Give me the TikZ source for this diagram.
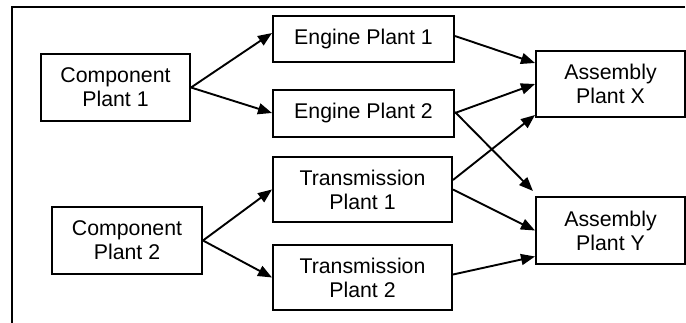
\documentclass[tikz,border=0pt]{standalone}
\usepackage{fontspec}
\setmainfont{Liberation Sans}
\usetikzlibrary{arrows.meta}

\begin{document}
\begin{tikzpicture}[x=1pt,y=-1pt,
    plant/.style={draw, line width=2pt, align=center, inner sep=0pt,
      font=\fontsize{21.3}{24}\selectfont},
    flow/.style={line width=1.9pt, -{Triangle[length=14pt,width=11pt]}}]
  \useasboundingbox (0,0) rectangle (686,322);

  % page frame
  \draw[line width=2.2pt] (685,7) -- (12,7) -- (12,324);

  % plants
  \node[plant, minimum width=149pt, minimum height=67pt] (cp1) at (115.5,87.5) {Component\\Plant 1};
  \node[plant, minimum width=150pt, minimum height=67pt] (cp2) at (127,240.5) {Component\\Plant 2};
  \node[plant, minimum width=181pt, minimum height=46pt] (ep1) at (363.5,39) {Engine Plant 1};
  \node[plant, minimum width=181pt, minimum height=47pt] (ep2) at (363.5,113) {Engine Plant 2};
  \node[plant, minimum width=179pt, minimum height=65pt] (tp1) at (362.5,189.5) {Transmission\\Plant 1};
  \node[plant, minimum width=179pt, minimum height=65pt] (tp2) at (362.5,277.5) {Transmission\\Plant 2};
  \node[plant, minimum width=149pt, minimum height=66pt] (ax) at (610.5,84) {Assembly\\Plant X};
  \node[plant, minimum width=149pt, minimum height=67pt] (ay) at (610.5,230.5) {Assembly\\Plant Y};

  % component flows
  \draw[flow] (cp1.east) -- ([yshift=6pt]ep1.west);
  \draw[flow] (cp1.east) -- (ep2.west);
  \draw[flow] (cp2.east) -- (tp1.west);
  \draw[flow] (cp2.east) -- (tp2.west);

  % engine and transmission flows
  \draw[flow] ([yshift=3pt]ep1.east) -- ([yshift=21pt]ax.west);
  \draw[flow] (ep2.east) -- (ax.west);
  \draw[flow] ([yshift=1pt]ep2.east) -- ([shift={(-2pt,5pt)}]ay.north west);
  \draw[flow] ([yshift=9.5pt]tp1.east) -- ([yshift=-31pt]ax.west);
  \draw[flow] (tp1.east) -- (ay.west);
  \draw[flow] ([yshift=3pt]tp2.east) -- ([yshift=-26pt]ay.west);
\end{tikzpicture}
\end{document}
